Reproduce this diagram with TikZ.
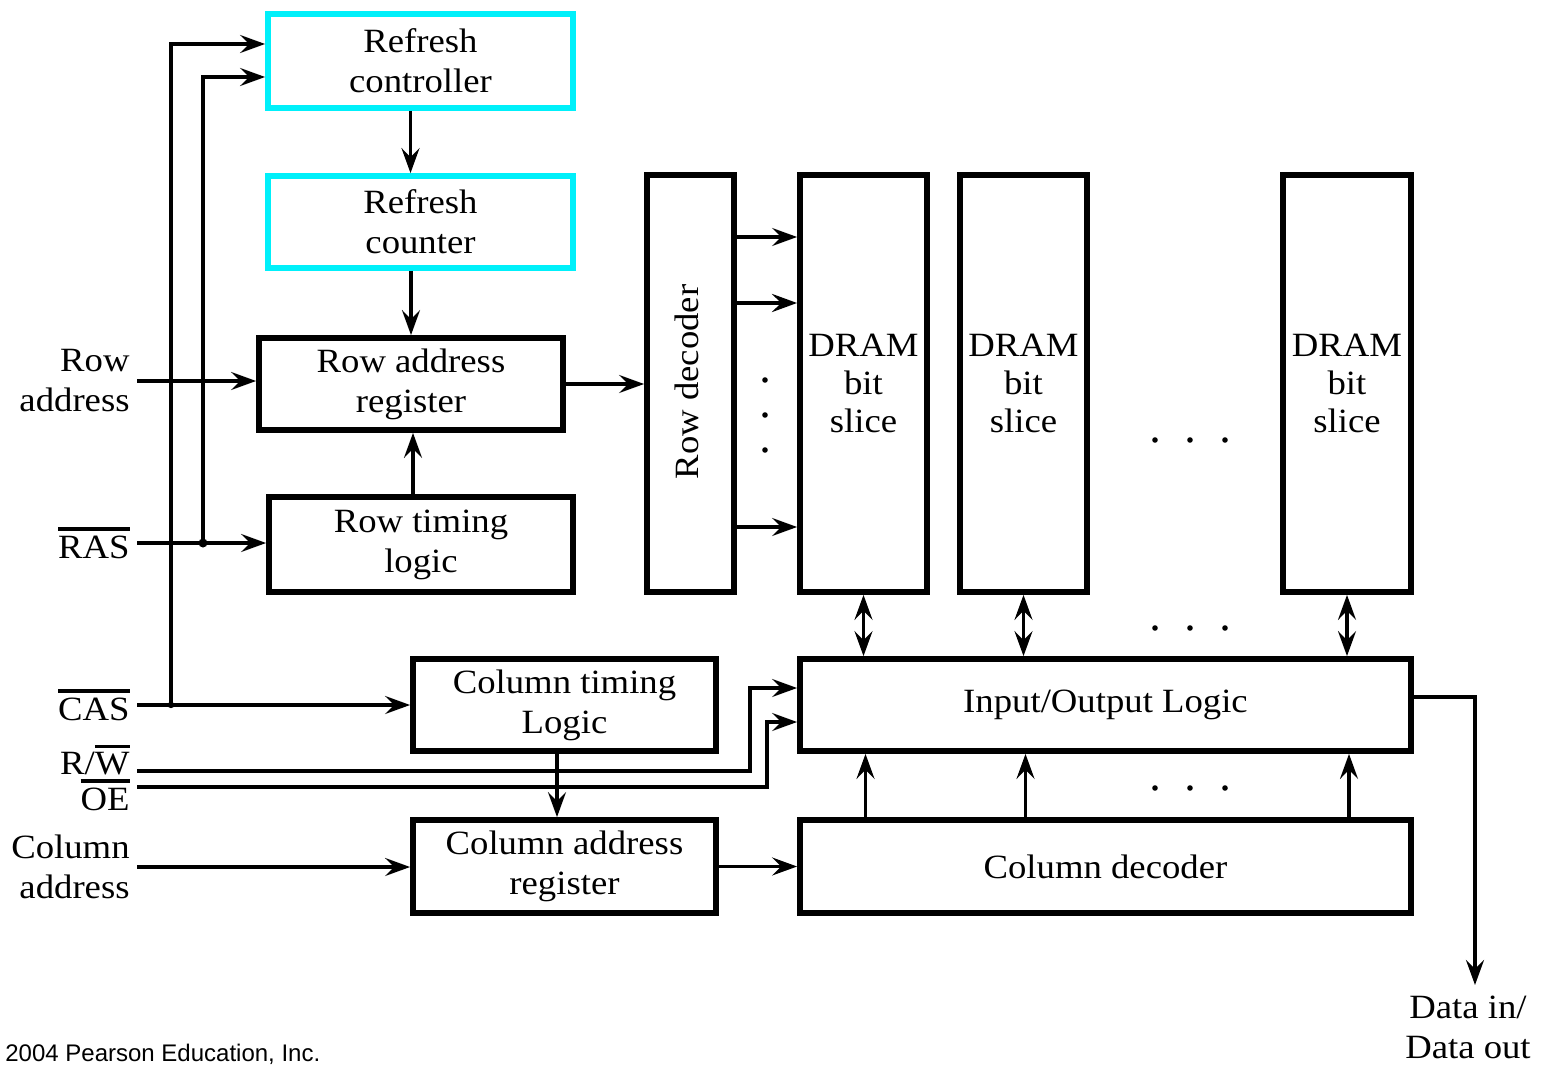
\documentclass[tikz,border=0pt]{standalone}
\usepackage{fontspec}
\setmainfont{Liberation Serif}[FakeStretch=1.08]
\newfontfamily\copyfont{Liberation Sans}
\usetikzlibrary{arrows.meta,calc}
\definecolor{refcyan}{RGB}{0,240,250}
% active-low signal name: text with a bar over it
\newcommand\lowbar[1]{\leavevmode\vbox{\hrule height 1.6pt\kern 2.5pt\hbox{#1}}}
\begin{document}
\begin{tikzpicture}[x=0.5pt,y=-0.5pt,
  font=\fontsize{17}{20}\selectfont,
  box/.style={draw, line width=2.9pt, inner sep=0pt, align=center},
  cbox/.style={box, draw=refcyan},
  lbl/.style={anchor=east, align=right, inner xsep=3.5pt, inner ysep=0pt},
  tip/.tip={Stealth[length=12.5pt,width=9pt,inset=4.5pt]},
  arr/.style={line width=1.6pt, -tip},
  dbl/.style={line width=1.6pt, tip-tip},
  dot/.style={fill, circle, inner sep=0pt, minimum size=2.8pt}]
\useasboundingbox (0,0) rectangle (1544,1065);

% ---- blocks ----
\node[cbox, minimum width=152.5pt, minimum height=47pt] (rc) at (420.5,61) {Refresh\\controller};
\node[cbox, minimum width=152.5pt, minimum height=46pt] (rcnt) at (420.5,222) {Refresh\\counter};
\node[box, minimum width=152pt, minimum height=46pt] (rar) at (411,384) {Row address\\register};
\node[box, minimum width=152pt, minimum height=47.5pt] (rtl) at (421,544.5) {Row timing\\logic};
\node[box, minimum width=43.5pt, minimum height=208.5pt] (rd) at (690.5,383.5) {};
\node[rotate=90] at (687,382) {Row decoder};
\node[box, minimum width=63.5pt, minimum height=208.5pt, font=\fontsize{17}{19}\selectfont] (d1) at (863.5,383.5) {DRAM\\bit\\slice};
\node[box, minimum width=63.5pt, minimum height=208.5pt, font=\fontsize{17}{19}\selectfont] (d2) at (1023.5,383.5) {DRAM\\bit\\slice};
\node[box, minimum width=64pt, minimum height=208.5pt, font=\fontsize{17}{19}\selectfont] (d3) at (1347,383.5) {DRAM\\bit\\slice};
\node[box, minimum width=151.5pt, minimum height=46pt] (ctl) at (564.5,705) {Column timing\\Logic};
\node[box, minimum width=305.5pt, minimum height=46pt] (io) at (1105.5,705) {Input/Output Logic};
\node[box, minimum width=151.5pt, minimum height=46.5pt] (car) at (564.5,866.5) {Column address\\register};
\node[box, minimum width=305.5pt, minimum height=46.5pt] (cd) at (1105.5,866.5) {Column decoder};

% ---- signal labels ----
\node[lbl] (ra) at (137,381) {Row\\address};
\node[lbl] (ras) at (137,543) {\lowbar{RAS}};
\node[lbl] (cas) at (137,705) {\lowbar{CAS}};
\node[lbl] (rw) at (137,760) {R/\lowbar{W}};
\node[lbl] (oe) at (137,795) {\lowbar{OE}};
\node[lbl] (ca) at (137,867) {Column\\address};
\node[align=center, inner sep=0pt] (data) at (1468,1027) {Data in/\\Data out};
\node[anchor=base west, inner sep=0pt, font=\copyfont\fontsize{12}{14}\selectfont] (copy) at (5,1061) {2004 Pearson Education, Inc.};

% ---- junctions on the strobe lines ----
\coordinate (jc) at (171,705);
\coordinate (jr) at (203,543);
\node[dot, minimum size=3.2pt] at (jc) {};
\node[dot, minimum size=4.5pt] at (jr) {};

% ---- connectors ----
\draw[arr] (ra.east) -- (ra.east -| rar.west);
\draw[arr] (ras.east) -- (ras.east -| rtl.west);
\draw[arr] (cas.east) -- (ctl.west);
\draw[arr] (jc) |- ($(rc.west)+(0,-17)$);
\draw[arr] (jr) |- ($(rc.west)+(0,16)$);
\draw[arr] ([xshift=-5pt]rc.south) -- ([xshift=-5pt]rc.south |- rcnt.north);
\draw[arr] (rar.north |- rcnt.south) -- (rar.north);
\draw[arr] ([xshift=1pt]rar.south |- rtl.north) -- ([xshift=1pt]rar.south);
\draw[arr] (rar.east) -- (rar.east -| rd.west);

\draw[arr] (rd.east |- 0,237) -- (d1.west |- 0,237);
\draw[arr, line width=2.1pt] (rd.east |- 0,303) -- (d1.west |- 0,303);
\draw[arr] (rd.east |- 0,527) -- (d1.west |- 0,527);
\foreach \y in {380,415,450} \node[dot] at (765,\y) {};

\foreach \d in {d1,d2,d3} {
  \draw[dbl] (\d.south) -- (\d.south |- io.north);
  \draw[arr] ([xshift=1pt]\d.south |- cd.north) -- ([xshift=1pt]\d.south |- io.south);
}
\foreach \y in {440,628,788}
  \foreach \x in {1155,1190,1225} \node[dot] at (\x,\y) {};

\draw[arr] ([xshift=-3.75pt]ctl.south) -- ([xshift=-3.75pt]car.north);
\draw[arr] ([yshift=-5.5pt]rw.east) -| (750,688) -- (io.west |- 0,688);
\draw[arr] ([yshift=4pt]oe.east) -| (767,722) -- (io.west |- 0,722);
\draw[arr] (ca.east) -- (ca.east -| car.west);
\draw[arr] (car.east) -- (cd.west);

\coordinate (dio) at (1475,985);
\draw[arr] ([yshift=4pt]io.east) -| (dio);
\end{tikzpicture}
\end{document}
